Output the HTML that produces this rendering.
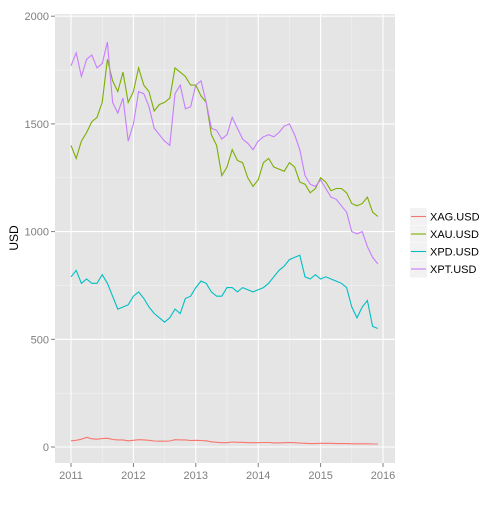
<!DOCTYPE html>
<html><head><meta charset="utf-8"><style>
body{margin:0;background:#fff;font-family:"Liberation Sans",sans-serif}
</style></head><body>
<svg id="chart" width="504" height="504" xmlns="http://www.w3.org/2000/svg">
<rect x="55" y="14" width="340" height="449" fill="#e5e5e5"/>
<g id="grid"></g><g id="series"></g><g id="axes"></g><g id="legend"></g>
<text x="18" y="238" transform="rotate(-90 18 238)" text-anchor="middle" font-size="12" fill="#000">USD</text>
</svg>
<script>
const seriesNames = ["XAG.USD","XAU.USD","XPD.USD","XPT.USD"];
const seriesColors = ["#F8766D","#7CAE00","#00BFC4","#C77CFF"];
const startYear = 2011.0;
const stepYear = 1/12;
const xag = [29,31,36,45,38,36,39,41,35,33,33,29, 31,34,33,31,28,27,27,28,34,33,33,30, 31,30,29,24,22,20,20,23,22,22,20,20, 20,21,21,19,19,20,21,20,18,17,16,16, 17,17,17,16,16,16,15,15,15,15,14,14];
const xau = [1400,1340,1420,1460,1510,1530,1600,1800,1700,1650,1740,1600, 1650,1760,1680,1650,1560,1590,1600,1620,1760,1740,1720,1680, 1680,1630,1600,1450,1400,1260,1300,1380,1330,1320,1250,1210, 1240,1320,1340,1300,1290,1280,1320,1300,1230,1220,1180,1200, 1250,1230,1190,1200,1200,1180,1130,1120,1130,1160,1090,1070];
const xpd = [790,820,760,780,760,760,800,760,700,640,650,660, 700,720,690,650,620,600,580,600,640,620,690,700, 740,770,760,720,700,700,740,740,720,740,730,720, 730,740,760,790,820,840,870,880,890,790,780,800, 780,790,780,770,760,740,650,600,650,680,560,550];
const xpt = [1770,1830,1720,1800,1820,1760,1780,1880,1600,1550,1620,1420, 1500,1650,1640,1580,1480,1450,1420,1400,1640,1680,1570,1580, 1680,1700,1600,1480,1470,1430,1450,1530,1480,1430,1410,1380, 1420,1440,1450,1440,1460,1490,1500,1450,1380,1260,1220,1210, 1240,1200,1160,1150,1120,1090,1000,990,1000,930,880,850];
const yTicks = [0,500,1000,1500,2000];
const xTicks = [2011,2012,2013,2014,2015,2016];

const NS="http://www.w3.org/2000/svg";
const X = t => 71 + (t-2011)*62.4;
const Y = v => 447 - v*107.7/500;
function mk(tag, attrs, parent){const e=document.createElementNS(NS,tag);for(const k in attrs)e.setAttribute(k,attrs[k]);parent.appendChild(e);return e;}
const grid=document.getElementById('grid'), axes=document.getElementById('axes'), ser=document.getElementById('series'), leg=document.getElementById('legend');
for(let i=0;i<yTicks.length-1;i++){const v=(yTicks[i]+yTicks[i+1])/2;
 const l=mk('line',{x1:55,x2:395,y1:Y(v),y2:Y(v),stroke:'#f2f2f2','stroke-width':0.6},grid);
 
 }
for(let i=0;i<xTicks.length-1;i++){const t=xTicks[i]+0.5;
 const l=mk('line',{x1:X(t),x2:X(t),y1:14,y2:463,stroke:'#f2f2f2','stroke-width':0.6},grid);
 
 }
yTicks.forEach(v=>{
 const l=mk('line',{x1:55,x2:395,y1:Y(v),y2:Y(v),stroke:'#fff','stroke-width':1.1},grid);
 
 
 const tk=mk('line',{x1:51,x2:55,y1:Y(v),y2:Y(v),stroke:'#7f7f7f'},axes);
 
 
 const tx=mk('text',{x:49,y:Y(v)+4,'text-anchor':'end','font-size':11,fill:'#7f7f7f'},axes);
 tx.textContent=v;
 
 
});
xTicks.forEach(t=>{
 const l=mk('line',{x1:X(t),x2:X(t),y1:14,y2:463,stroke:'#fff','stroke-width':1.1},grid);
 
 
 const tk=mk('line',{x1:X(t),x2:X(t),y1:463,y2:467,stroke:'#7f7f7f'},axes);
 
 
 const tx=mk('text',{x:X(t),y:479,'text-anchor':'middle','font-size':11,fill:'#7f7f7f'},axes);
 tx.textContent=t;
 
 
});
[xag,xau,xpd,xpt].forEach((arr,si)=>{
 const d=arr.map((v,i)=>(i?'L':'M')+X(startYear+i*stepYear).toFixed(1)+','+Y(v).toFixed(1)).join('');
 const p=mk('path',{d:d,fill:'none',stroke:seriesColors[si],'stroke-width':1.1},ser);
 
 
});
seriesNames.forEach((n,i)=>{
 const y0=208+i*17.5;
 const r=mk('rect',{x:410,y:y0,width:17,height:17,fill:'#f2f2f2'},leg);
 
 
 mk('line',{x1:411,x2:426,y1:y0+8.5,y2:y0+8.5,stroke:seriesColors[i],'stroke-width':1.1},leg);
 const t=mk('text',{x:430,y:y0+12.5,'font-size':11,fill:'#000'},leg);
 t.textContent=n;
 
 
});
</script>
</body></html>
